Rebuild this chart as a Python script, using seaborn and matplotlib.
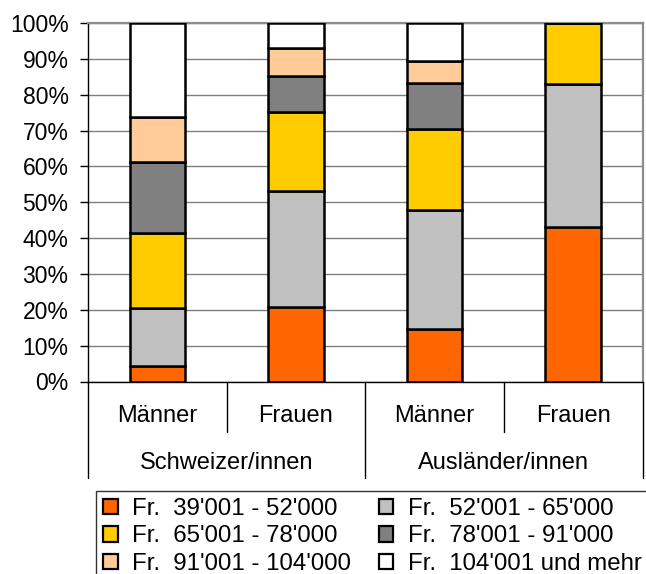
import matplotlib
matplotlib.use("Agg")
import matplotlib.pyplot as plt
import matplotlib.transforms as mtransforms
from matplotlib.lines import Line2D
from matplotlib.patches import Patch
import pandas as pd
import seaborn as sns

# Bars: one per nationality group and sex
bar_ids = ["CH_M", "CH_F", "AUS_M", "AUS_F"]
sex_labels = ["Männer", "Frauen", "Männer", "Frauen"]
group_labels = ["Schweizer/innen", "Ausländer/innen"]

# Income classes (bottom to top of each stack)
income_classes = [
    "Fr.  39'001 - 52'000",
    "Fr.  52'001 - 65'000",
    "Fr.  65'001 - 78'000",
    "Fr.  78'001 - 91'000",
    "Fr.  91'001 - 104'000",
    "Fr.  104'001 und mehr",
]
class_colors = ["#FF6600", "#C0C0C0", "#FFCC00", "#808080", "#FFCC99", "#FFFFFF"]

# Share of each income class in percent, per bar
share_39_52 = [4.3, 20.8, 14.7, 43.1]
share_52_65 = [16.2, 32.3, 33.1, 39.8]
share_65_78 = [20.8, 22.0, 22.6, 17.1]
share_78_91 = [20.0, 10.0, 12.8, 0.0]
share_91_104 = [12.6, 7.8, 6.1, 0.0]
share_104_plus = [26.1, 7.1, 10.7, 0.0]
shares = [share_39_52, share_52_65, share_65_78, share_78_91, share_91_104, share_104_plus]

y_ticks = [0, 10, 20, 30, 40, 50, 60, 70, 80, 90, 100]

sns.set_style("white")
plt.rcParams["font.family"] = ["Liberation Sans", "DejaVu Sans"]
plt.rcParams["text.color"] = "black"
plt.rcParams["ytick.labelcolor"] = "black"
plt.rcParams["xtick.labelcolor"] = "black"

W, H = 646, 574
fig = plt.figure(figsize=(W / 100, H / 100), dpi=100)
ax_left, ax_right, ax_top, ax_bottom = 88, 642.5, 23, 381.5
ax = fig.add_axes([ax_left / W, 1 - ax_bottom / H, (ax_right - ax_left) / W, (ax_bottom - ax_top) / H])

bottoms = [0.0] * len(bar_ids)
for cls, vals, col in zip(income_classes, shares, class_colors):
    df = pd.DataFrame({"bar": bar_ids, "share": vals})
    sns.barplot(data=df, x="bar", y="share", order=bar_ids, bottom=bottoms,
                color=col, saturation=1, width=0.4, errorbar=None,
                edgecolor="black", linewidth=1.8, ax=ax, zorder=3)
    bottoms = [b + v for b, v in zip(bottoms, vals)]

ax.set_xlim(-0.5, len(bar_ids) - 0.5)
ax.set_ylim(0, 100)
ax.set_yticks(y_ticks)
ax.set_yticklabels([f"{t}%" for t in y_ticks], fontsize=16.5, color="black")
ax.set_xticks([])
ax.set_xlabel("")
ax.set_ylabel("")
ax.tick_params(axis="y", direction="out", length=6, width=1, color="black", pad=8, left=True)
ax.yaxis.grid(True, color="#7f7f7f", linewidth=1)
ax.set_axisbelow(True)

for side in ["left", "bottom"]:
    ax.spines[side].set_color("black")
    ax.spines[side].set_linewidth(1)
for side in ["top", "right"]:
    ax.spines[side].set_visible(True)
    ax.spines[side].set_color("#8c8c8c")
    ax.spines[side].set_linewidth(1.6)

# Two-level category axis below the plot
trans = mtransforms.blended_transform_factory(ax.transData, ax.transAxes)
ax_h = ax_bottom - ax_top
y_sex_end = -(432 - ax_bottom) / ax_h
y_grp_end = -(478 - ax_bottom) / ax_h
y_sex_txt = -(416 - ax_bottom) / ax_h
y_grp_txt = -(463 - ax_bottom) / ax_h

for xpos in [-0.5, 1.5, 3.5]:
    ax.add_line(Line2D([xpos, xpos], [0, y_grp_end], transform=trans, color="black",
                       linewidth=1, clip_on=False))
for xpos in [0.5, 2.5]:
    ax.add_line(Line2D([xpos, xpos], [0, y_sex_end], transform=trans, color="black",
                       linewidth=1, clip_on=False))
for i, lab in enumerate(sex_labels):
    ax.text(i, y_sex_txt, lab, transform=trans, ha="center", va="center",
            fontsize=17, color="black")
for g, lab in enumerate(group_labels):
    ax.text(2 * g + 0.5, y_grp_txt, lab, transform=trans, ha="center", va="center",
            fontsize=17, color="black")

# Legend: two columns, filled row by row
handles = [Patch(facecolor=c, edgecolor="black", linewidth=1.6) for c in class_colors]
order = [0, 2, 4, 1, 3, 5]
leg = fig.legend([handles[i] for i in order], [income_classes[i] for i in order],
                 ncol=2, loc="upper left", bbox_to_anchor=(96 / W, 1 - 491 / H),
                 frameon=True, fancybox=False, shadow=False, fontsize=17.3,
                 handlelength=0.6, handleheight=0.6, handletextpad=0.6,
                 columnspacing=1.15, labelspacing=0.22, borderpad=0.3, borderaxespad=0,
                 labelcolor="black")
leg.get_frame().set_edgecolor("black")
leg.get_frame().set_linewidth(1)

fig.savefig("out.png", dpi=100)
